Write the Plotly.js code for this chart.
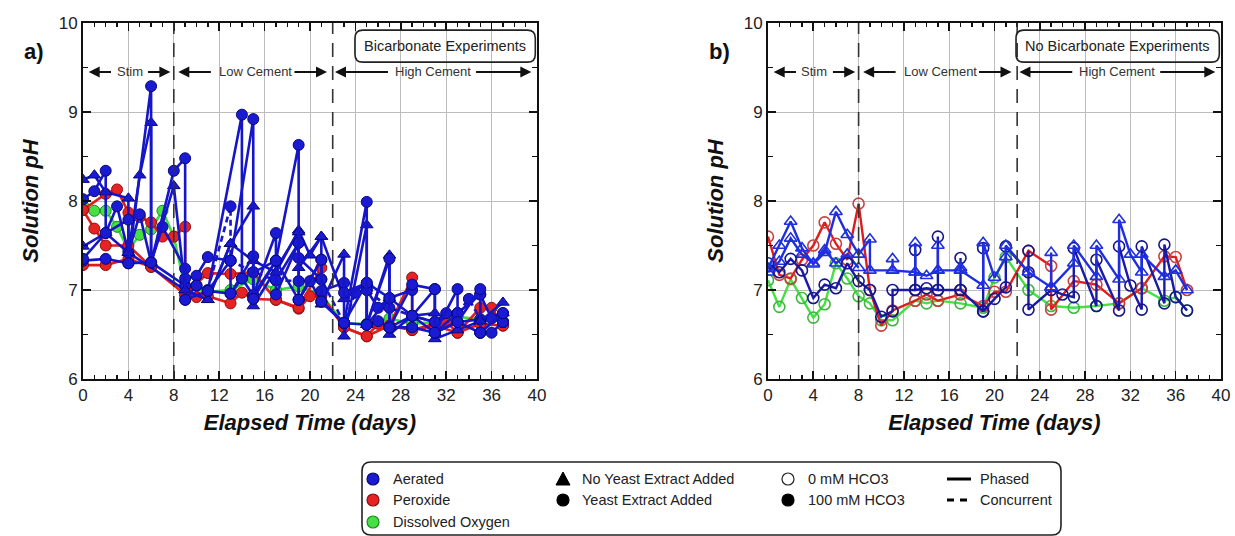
<!DOCTYPE html>
<html>
<head>
<meta charset="utf-8">
<script src="https://cdn.plot.ly/plotly-3.0.1.min.js"></script>
<style>html,body{margin:0;padding:0;background:#fff;}#chart{width:1235px;height:536px;}</style>
</head>
<body>
<div id="chart"></div>
<script>
// ---------------- DATA ----------------
// Panel a) Bicarbonate experiments (100 mM HCO3, filled markers)
const aGreen1_x = [0, 1, 2, 3, 4, 5, 6, 7, 8, 9, 11, 13, 15, 17, 19, 21, 23, 25, 27, 29, 31, 33, 35, 37];
const aGreen1_y = [7.95, 7.89, 7.89, 7.71, 7.45, 7.62, 7.68, 7.89, 7.60, 7.02, 6.98, 7.00, 7.12, 7.00, 7.04, 6.95, 6.62, 6.62, 6.68, 6.62, 6.64, 6.70, 6.67, 6.65];

const aRed1_x = [0, 2, 3, 4, 5, 6, 7, 8, 9, 9, 11, 13, 15, 17, 19, 21, 21, 23, 25, 27, 29, 29, 31, 33, 35, 36, 37];
const aRed1_y = [7.90, 8.08, 8.13, 7.87, 7.82, 7.76, 7.60, 7.60, 7.71, 6.95, 7.19, 7.18, 7.20, 6.89, 6.80, 7.25, 6.94, 6.58, 6.48, 6.60, 7.14, 6.55, 6.60, 6.52, 6.80, 6.80, 6.60];
const aRed2_x = [0, 1, 2, 4, 6, 9, 10, 11, 13, 14, 15, 17, 19, 20, 21, 23, 25, 26, 27, 29, 31, 32, 33, 35, 37];
const aRed2_y = [7.90, 7.69, 7.50, 7.50, 7.26, 6.95, 6.92, 6.93, 6.85, 6.97, 6.90, 6.89, 6.79, 6.93, 6.94, 6.58, 6.48, 6.62, 6.60, 6.55, 6.62, 6.64, 6.52, 6.62, 6.60];
const aRed3_x = [0, 2, 4, 6];
const aRed3_y = [7.28, 7.28, 7.35, 7.26];

const aBlueC1_x = [0, 1, 2, 2, 4, 4, 6, 6, 8, 9, 9, 11, 14, 14, 17, 19, 19, 21, 21, 23, 25, 25, 27, 27, 29, 31, 31, 33, 33, 35, 35, 37];
const aBlueC1_y = [8.02, 8.11, 8.34, 7.64, 7.79, 7.30, 9.29, 7.31, 8.34, 8.48, 6.89, 6.99, 8.97, 7.13, 7.33, 8.63, 6.89, 7.34, 6.87, 6.63, 7.99, 6.61, 7.35, 6.58, 7.06, 7.01, 6.52, 7.01, 6.64, 7.01, 6.52, 6.74];
const aBlueC2_x = [0, 2, 3, 4, 5, 6, 7, 9, 9, 10, 11, 13, 13, 15, 15, 17, 17, 19, 19, 21, 21, 23, 23, 25, 25, 26, 27, 29, 29, 31, 32, 33, 35, 36, 37];
const aBlueC2_y = [7.35, 7.64, 7.94, 7.42, 7.85, 7.31, 7.71, 7.24, 7.13, 7.16, 7.37, 7.33, 6.96, 7.38, 6.94, 7.64, 7.11, 7.53, 7.36, 7.12, 6.99, 7.08, 6.97, 7.08, 7.00, 6.80, 6.91, 7.00, 6.71, 6.64, 6.74, 6.74, 6.95, 6.68, 6.64];
const aBlueC3_x = [0, 2, 4, 6, 9, 10, 11, 13, 14, 15, 17, 19, 20, 21, 23, 25, 26, 27, 29, 31, 33, 35, 36, 37];
const aBlueC3_y = [7.33, 7.35, 7.30, 7.31, 7.05, 7.05, 6.99, 6.96, 7.13, 6.94, 7.33, 6.89, 7.10, 6.87, 6.63, 6.61, 6.65, 6.58, 6.58, 6.52, 6.64, 6.52, 6.52, 6.64];
const aBlueC4_x = [9, 10, 11, 13, 15, 15, 17, 17, 19, 19, 21, 21, 23, 25, 25, 27, 27, 29, 31, 31, 33, 35, 35, 37];
const aBlueC4_y = [6.89, 7.05, 6.99, 7.33, 8.92, 6.90, 7.33, 6.95, 7.53, 6.89, 7.34, 6.87, 6.63, 7.08, 6.61, 6.91, 6.58, 6.71, 7.01, 6.52, 6.74, 6.95, 6.52, 6.74];
const aBlueDash_x = [11, 13, 13, 15, 17, 19, 21, 23, 24, 25, 27, 29, 31, 33, 34, 35, 37];
const aBlueDash_y = [7.00, 7.94, 7.33, 7.20, 7.11, 7.10, 7.12, 6.63, 6.97, 7.00, 6.80, 6.71, 6.64, 6.74, 6.90, 6.67, 6.64];

const aBlueT1_x = [0, 1, 2, 4, 4, 5, 6, 6, 8, 9, 11, 13, 15, 15, 19, 19, 21, 21, 23, 23, 25, 25, 27, 27, 29, 31, 31, 33, 35, 37];
const aBlueT1_y = [8.24, 8.29, 8.10, 8.03, 7.42, 8.29, 8.88, 7.31, 8.17, 7.00, 6.89, 7.52, 7.94, 6.82, 7.65, 7.25, 7.60, 6.84, 7.40, 6.48, 7.73, 6.61, 7.39, 6.50, 6.71, 6.74, 6.45, 6.55, 6.65, 6.86];
const aBlueT2_x = [0, 2, 4, 9, 11, 13, 15, 17, 19, 20, 21, 23, 25, 27, 29, 31, 33, 35, 37];
const aBlueT2_y = [7.49, 7.64, 7.42, 7.00, 6.89, 7.52, 7.33, 7.20, 7.67, 7.39, 7.60, 6.90, 7.08, 6.91, 6.71, 6.52, 6.64, 6.67, 6.74];

// Panel b) No bicarbonate experiments (0 mM HCO3, open markers)
const bGreen1_x = [0, 1, 2, 3, 4, 5, 6, 7, 8, 9, 10, 11, 13, 14, 15, 17, 19, 20, 21, 23, 25, 27, 29, 31, 33, 35, 36, 37];
const bGreen1_y = [7.11, 6.81, 7.12, 6.91, 6.69, 6.84, 7.30, 7.13, 6.93, 6.85, 6.66, 6.66, 6.88, 6.85, 6.88, 6.85, 6.80, 7.14, 7.37, 7.00, 6.82, 6.80, 6.82, 6.85, 7.02, 6.88, 6.92, 6.77];
const bRed1_x = [0, 1, 2, 3, 4, 5, 6, 7, 8, 9, 10, 11, 13, 14, 15, 17, 19, 20, 21, 23, 25, 25, 27, 29, 31, 33, 35, 36, 37];
const bRed1_y = [7.60, 7.17, 7.13, 7.34, 7.50, 7.76, 7.52, 7.34, 7.97, 7.00, 6.60, 6.77, 6.88, 6.95, 6.88, 6.95, 6.82, 6.98, 6.98, 7.44, 7.27, 6.78, 7.10, 7.06, 6.85, 7.02, 7.38, 7.37, 7.00];
const bBlueT1_x = [0, 1, 2, 3, 4, 5, 6, 7, 8, 9, 9, 11, 11, 11, 13, 13, 13, 14, 15, 15, 15, 17, 17, 17, 19, 19, 20, 21, 21, 23, 25, 25, 25, 27, 27, 29, 29, 31, 31, 32, 33, 33, 35, 36, 37];
const bBlueT1_y = [7.24, 7.50, 7.77, 7.47, 7.29, 7.42, 7.88, 7.62, 7.40, 7.57, 7.22, 7.22, 7.35, 7.22, 7.20, 7.53, 7.20, 7.16, 7.22, 7.50, 7.22, 7.22, 7.25, 7.22, 7.05, 7.53, 7.14, 7.37, 7.50, 7.20, 7.03, 7.42, 7.03, 7.30, 7.50, 7.15, 7.50, 7.12, 7.79, 7.40, 7.20, 7.40, 7.15, 7.22, 7.00];
const bBlueT2_x = [0, 1, 2, 3, 4, 5, 6, 7, 8];
const bBlueT2_y = [7.20, 7.32, 7.58, 7.40, 7.30, 7.45, 7.30, 7.40, 7.25];
const bNavy1_x = [0, 1, 2, 3, 4, 5, 6, 7, 8, 9, 10, 11, 11, 13, 13, 13, 14, 15, 15, 15, 17, 17, 17, 19, 19, 19, 20, 21, 21, 23, 23, 23, 25, 26, 27, 27, 29, 29, 31, 31, 32, 33, 33, 35, 35, 36, 37];
const bNavy1_y = [7.30, 7.20, 7.35, 7.22, 6.91, 7.06, 7.02, 7.30, 7.10, 7.00, 6.70, 6.76, 7.00, 7.00, 7.45, 7.00, 7.02, 7.00, 7.60, 7.00, 7.00, 7.36, 7.00, 6.76, 7.47, 6.76, 6.90, 7.03, 7.49, 7.20, 7.44, 6.78, 7.00, 6.95, 6.92, 7.47, 6.82, 7.34, 6.77, 7.49, 7.05, 6.78, 7.49, 6.85, 7.51, 6.92, 6.77];

// Phase labels and boundaries
const phaseNames = ['Stim', 'Low Cement', 'High Cement'];
const phaseTextX = [4.1, 15.2, 30.8];
const arrowLeftHead = [0.5, 8.4, 22.2];
const arrowLeftTail = [2.6, 11.4, 27.0];
const arrowRightTail = [5.6, 18.5, 34.5];
const arrowRightHead = [7.7, 21.5, 39.5];
const phaseBounds = [8, 22];

const legendColors = ['Aerated', 'Peroxide', 'Dissolved Oxygen'];
const legendYeast = ['No Yeast Extract Added', 'Yeast Extract Added'];
const legendHCO3 = ['0 mM HCO3', '100 mM HCO3'];
const legendMode = ['Phased', 'Concurrent'];

// ---------------- STYLE ----------------
const FONT = 'Liberation Sans, Arial, sans-serif';
const C = {
  blue: {fill: '#1a1ad2', edge: '#08087a', line: '#1616c8'},
  red: {fill: '#e62222', edge: '#8a1010', line: '#e01c1c'},
  green: {fill: '#44e044', edge: '#1d8a1d', line: '#3cdc3c'},
  bblue: {edge: '#2030e0', line: '#1e2ee0'},
  navy: {edge: '#16168a', line: '#1a1aa8'},
  bred: {edge: '#c84040', line: '#e01c1c'},
  bgreen: {edge: '#40b840', line: '#44e044'}
};

function filled(x, y, c, symbol, dash) {
  return {x: x, y: y, xaxis: 'x', yaxis: 'y', type: 'scatter', mode: 'lines+markers',
    line: {color: c.line, width: 2.6, dash: dash || 'solid'},
    marker: {symbol: symbol, size: 11, color: c.fill, line: {color: c.edge, width: 1}},
    showlegend: false, hoverinfo: 'x+y'};
}
function open(x, y, c, symbol) {
  return {x: x, y: y, xaxis: 'x2', yaxis: 'y2', type: 'scatter', mode: 'lines+markers',
    line: {color: c.line, width: 2.4},
    marker: {symbol: symbol + '-open', size: 11, color: c.edge, line: {color: c.edge, width: 1.6}},
    showlegend: false, hoverinfo: 'x+y'};
}

const traces = [
  filled(aGreen1_x, aGreen1_y, C.green, 'circle'),
  filled(aRed3_x, aRed3_y, C.red, 'circle'),
  filled(aRed2_x, aRed2_y, C.red, 'circle'),
  filled(aRed1_x, aRed1_y, C.red, 'circle'),
  filled(aBlueDash_x, aBlueDash_y, C.blue, 'circle', '6px,4px'),
  filled(aBlueT2_x, aBlueT2_y, C.blue, 'triangle-up'),
  filled(aBlueC3_x, aBlueC3_y, C.blue, 'circle'),
  filled(aBlueC2_x, aBlueC2_y, C.blue, 'circle'),
  filled(aBlueT1_x, aBlueT1_y, C.blue, 'triangle-up'),
  filled(aBlueC4_x, aBlueC4_y, C.blue, 'circle'),
  filled(aBlueC1_x, aBlueC1_y, C.blue, 'circle'),
  open(bGreen1_x, bGreen1_y, C.bgreen, 'circle'),
  open(bRed1_x, bRed1_y, C.bred, 'circle'),
  open(bBlueT2_x, bBlueT2_y, C.bblue, 'triangle-up'),
  open(bNavy1_x, bNavy1_y, C.navy, 'circle'),
  open(bBlueT1_x, bBlueT1_y, C.bblue, 'triangle-up')
];

function axisX(domain, anchor) {
  return {domain: domain, anchor: anchor, range: [0, 40], tick0: 0, dtick: 4,
    ticks: 'inside', ticklen: 8, tickwidth: 1.6, tickcolor: '#111',
    minor: {dtick: 1, ticks: 'inside', ticklen: 4, tickwidth: 1.4, tickcolor: '#111', showgrid: false},
    showgrid: true, gridcolor: '#bdbdbd', gridwidth: 1,
    showline: true, linewidth: 2, linecolor: '#111', mirror: 'ticks', zeroline: false,
    tickfont: {family: FONT, size: 17, color: '#222'},
    title: {text: 'Elapsed Time (days)', standoff: 10,
      font: {family: FONT, size: 22, color: '#111', weight: 'bold', style: 'italic'}},
    fixedrange: true};
}
function axisY(domain, anchor) {
  return {domain: domain, anchor: anchor, range: [6, 10], tick0: 6, dtick: 1,
    ticks: 'inside', ticklen: 8, tickwidth: 1.6, tickcolor: '#111',
    minor: {dtick: 0.5, ticks: 'inside', ticklen: 5, tickwidth: 1.4, tickcolor: '#111', showgrid: false},
    showgrid: true, gridcolor: '#bdbdbd', gridwidth: 1,
    showline: true, linewidth: 2, linecolor: '#111', mirror: 'ticks', zeroline: false,
    tickfont: {family: FONT, size: 17, color: '#222'},
    title: {text: 'Solution pH', standoff: 14,
      font: {family: FONT, size: 22, color: '#111', weight: 'bold', style: 'italic'}},
    fixedrange: true};
}

const W = 1235, H = 536;
const px = v => v / W, py = v => 1 - v / H;

const shapes = [];
const annotations = [];

function roundRect(x0, x1, y0, y1, rx, ry, xref, yref, width) {
  const p = `M ${x0 + rx},${y1} L ${x1 - rx},${y1} Q ${x1},${y1} ${x1},${y1 - ry} L ${x1},${y0 + ry} Q ${x1},${y0} ${x1 - rx},${y0} L ${x0 + rx},${y0} Q ${x0},${y0} ${x0},${y0 + ry} L ${x0},${y1 - ry} Q ${x0},${y1} ${x0 + rx},${y1} Z`;
  return {type: 'path', path: p, xref: xref, yref: yref, line: {color: '#222', width: width || 1.6}, fillcolor: 'rgba(255,255,255,0)', layer: 'above'};
}

[['x', 'y', 23.96, 'Bicarbonate Experiments', 'a)', 22], ['x2', 'y2', 21.9, 'No Bicarbonate Experiments', 'b)', 720]].forEach(([xr, yr, bx0, boxText, lab, labX]) => {
  phaseBounds.forEach(b => shapes.push({type: 'line', xref: xr, yref: yr, x0: b, x1: b, y0: 6, y1: 10,
    line: {color: '#333', width: 1.6, dash: '14px,9px'}, layer: 'above'}));
  shapes.push(roundRect(bx0, 39.85, 9.56, 9.92, 0.7, 0.09, xr, yr, 1.6));
  annotations.push({xref: xr, yref: yr, x: (bx0 + 39.85) / 2, y: 9.74, text: boxText, showarrow: false,
    font: {family: FONT, size: 14.5, color: '#222'}});
  annotations.push({xref: 'paper', yref: 'paper', x: px(labX), y: py(37), text: lab, showarrow: false,
    font: {family: FONT, size: 22, color: '#111', weight: 'bold'}});
  phaseNames.forEach((n, i) => {
    annotations.push({xref: xr, yref: yr, x: phaseTextX[i], y: 9.45, text: n, showarrow: false,
      font: {family: FONT, size: 13, color: '#333'}});
    [[arrowLeftHead[i], arrowLeftTail[i]], [arrowRightHead[i], arrowRightTail[i]]].forEach(([h, t]) => {
      annotations.push({xref: xr, yref: yr, axref: xr, ayref: yr, x: h, y: 9.45, ax: t, ay: 9.45, text: '',
        showarrow: true, arrowhead: 2, arrowsize: 1.1, arrowwidth: 2, arrowcolor: '#111', standoff: 0, startstandoff: 0});
    });
  });
});

// Legend box
shapes.push(roundRect(px(362), px(1061), py(535), py(462), 9 / W, 9 / H, 'paper', 'paper', 1.6));
const rowY = [479, 500, 522];
const legFont = {family: FONT, size: 14.5, color: '#222'};
function legText(xPix, yPix, t) {
  annotations.push({xref: 'paper', yref: 'paper', x: px(xPix), y: py(yPix), xanchor: 'left', yanchor: 'middle',
    text: t, showarrow: false, font: legFont});
}
function circ(xPix, yPix, fill, edge) {
  shapes.push({type: 'circle', xref: 'paper', yref: 'paper', x0: px(xPix - 6), x1: px(xPix + 6), y0: py(yPix + 6), y1: py(yPix - 6),
    fillcolor: fill, line: {color: edge, width: 1.2}});
}
const legColorFill = [C.blue, C.red, C.green];
legendColors.forEach((t, i) => { circ(373, rowY[i], legColorFill[i].fill, legColorFill[i].edge); legText(391, rowY[i], t); });
shapes.push({type: 'path', xref: 'paper', yref: 'paper',
  path: `M ${px(556)},${py(rowY[0] + 6)} L ${px(570)},${py(rowY[0] + 6)} L ${px(563)},${py(rowY[0] - 7)} Z`,
  fillcolor: '#000', line: {color: '#000', width: 1}});
legText(580, rowY[0], legendYeast[0]);
circ(563, rowY[1], '#000', '#000');
legText(580, rowY[1], legendYeast[1]);
circ(788, rowY[0], '#fff', '#222');
legText(806, rowY[0], legendHCO3[0]);
circ(788, rowY[1], '#000', '#000');
legText(806, rowY[1], legendHCO3[1]);
shapes.push({type: 'line', xref: 'paper', yref: 'paper', x0: px(947), x1: px(971), y0: py(rowY[0]), y1: py(rowY[0]), line: {color: '#000', width: 3}});
shapes.push({type: 'line', xref: 'paper', yref: 'paper', x0: px(947), x1: px(971), y0: py(rowY[1]), y1: py(rowY[1]), line: {color: '#000', width: 3, dash: '7px,6px'}});
legText(978, rowY[0], legendMode[0]);
legText(978, rowY[1], legendMode[1]);

const layout = {
  width: W, height: H, margin: {l: 0, r: 0, t: 0, b: 0},
  paper_bgcolor: '#fff', plot_bgcolor: '#fff',
  xaxis: axisX([83 / W, 537 / W], 'y'),
  yaxis: axisY([1 - 379 / H, 1 - 23 / H], 'x'),
  xaxis2: axisX([768 / W, 1221 / W], 'y2'),
  yaxis2: axisY([1 - 379 / H, 1 - 23 / H], 'x2'),
  shapes: shapes, annotations: annotations, showlegend: false,
  font: {family: FONT}
};

Plotly.newPlot('chart', traces, layout, {displayModeBar: false, staticPlot: true});
</script>
</body>
</html>
